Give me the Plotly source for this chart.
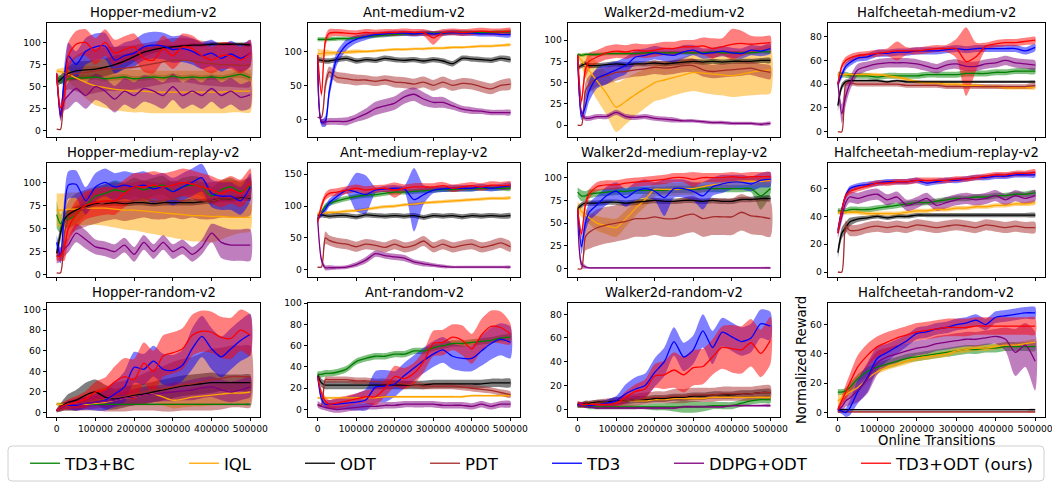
import plotly.graph_objects as go

# Evaluation steps (online transitions)
steps = [0, 10000, 20000, 30000, 50000, 75000, 100000, 125000, 150000, 175000, 200000,
         225000, 250000, 275000, 300000, 325000, 350000, 375000, 400000, 425000, 450000,
         475000, 500000]

methods = ["TD3+BC", "IQL", "ODT", "PDT", "TD3", "DDPG+ODT", "TD3+ODT (ours)"]
colors = ["#008000", "#FFA500", "#000000", "#A52A2A", "#0000FF", "#800080", "#FF0000"]

xtick_vals = [0, 100000, 200000, 300000, 400000, 500000]
xtick_text = ["0", "100000", "200000", "300000", "400000", "500000"]

# ---- Hopper-medium-v2 (rows follow the method order) ----
hopper_medium_mean = [
    [60, 58, 57, 59, 60, 60, 61, 59, 60, 61, 59, 60, 61, 60, 62, 60, 61, 60, 61, 60, 62, 64, 60],
    [68, 67, 66, 64, 60, 55, 51, 49, 47, 46, 45, 45, 44, 44, 44, 44, 44, 44, 44, 44, 45, 45, 45],
    [55, 58, 62, 65, 68, 69, 70, 72, 75, 79, 84, 89, 92, 94, 95, 96, 97, 97, 98, 98, 98, 98, 97],
    [2, 2, 55, 62, 65, 66, 68, 70, 70, 71, 72, 74, 76, 78, 80, 80, 79, 77, 76, 75, 75, 74, 75],
    [65, 18, 60, 85, 75, 90, 95, 96, 80, 85, 88, 95, 97, 96, 92, 93, 90, 85, 88, 82, 87, 82, 88],
    [65, 16, 35, 40, 48, 40, 50, 45, 36, 45, 40, 48, 45, 40, 50, 40, 45, 40, 48, 40, 45, 38, 41],
    [65, 26, 40, 85, 98, 100, 90, 100, 88, 92, 95, 82, 80, 93, 85, 95, 93, 85, 80, 85, 85, 80, 88],
]
hopper_medium_sd = [
    [4, 5, 4, 3, 3, 3, 3, 3, 3, 3, 3, 3, 3, 3, 3, 3, 3, 3, 3, 3, 3, 4, 3],
    [2, 4, 6, 8, 12, 18, 22, 23, 24, 24, 24, 24, 24, 24, 24, 24, 24, 24, 24, 24, 24, 24, 24],
    [4, 5, 6, 8, 10, 10, 10, 10, 10, 8, 6, 5, 4, 3, 2, 2, 2, 2, 2, 2, 2, 2, 2],
    [0, 0, 10, 15, 20, 25, 25, 25, 25, 25, 25, 25, 25, 25, 25, 25, 25, 25, 25, 25, 25, 25, 25],
    [3, 5, 15, 15, 15, 15, 15, 15, 15, 15, 15, 15, 15, 15, 15, 15, 15, 15, 15, 15, 15, 15, 15],
    [3, 5, 12, 15, 15, 15, 15, 15, 15, 15, 15, 15, 15, 15, 15, 15, 15, 15, 15, 15, 15, 15, 15],
    [3, 5, 15, 15, 15, 15, 15, 15, 15, 15, 15, 15, 15, 15, 15, 15, 15, 15, 15, 15, 15, 15, 15],
]

# ---- Ant-medium-v2 ----
ant_medium_mean = [
    [118, 118, 118, 118, 119, 119, 120, 122, 123, 124, 125, 126, 126, 127, 127, 127, 128, 128, 128, 128, 128, 129, 129],
    [97, 97, 98, 98, 98, 99, 100, 100, 101, 102, 103, 103, 104, 104, 105, 105, 106, 106, 107, 108, 108, 109, 110],
    [88, 87, 86, 86, 88, 90, 86, 88, 87, 90, 88, 87, 88, 86, 88, 86, 82, 90, 89, 88, 87, 90, 88],
    [3, 3, 50, 70, 62, 60, 58, 58, 56, 58, 55, 54, 52, 55, 50, 55, 50, 53, 52, 48, 45, 50, 52],
    [95, -5, -3, 40, 90, 110, 118, 122, 125, 126, 127, 127, 126, 127, 126, 127, 128, 127, 127, 126, 126, 125, 125],
    [88, -3, -4, -3, -3, -3, 2, 8, 16, 20, 24, 33, 37, 30, 25, 25, 20, 15, 13, 12, 10, 10, 10],
    [95, 37, 115, 127, 128, 127, 126, 128, 127, 128, 128, 129, 128, 128, 120, 128, 129, 128, 129, 130, 129, 129, 130],
]
ant_medium_sd = [
    [3, 3, 3, 3, 3, 3, 3, 3, 3, 3, 3, 3, 3, 3, 3, 3, 3, 3, 3, 3, 3, 3, 3],
    [7, 6, 5, 4, 3, 3, 3, 2, 2, 2, 2, 2, 2, 2, 2, 2, 2, 2, 2, 2, 2, 2, 2],
    [4, 4, 4, 4, 4, 4, 4, 4, 4, 4, 4, 4, 4, 4, 4, 4, 4, 4, 4, 4, 4, 4, 4],
    [1, 1, 10, 8, 8, 8, 8, 7, 7, 7, 8, 8, 8, 8, 8, 8, 8, 8, 8, 8, 8, 8, 8],
    [3, 5, 8, 10, 10, 8, 6, 5, 4, 4, 4, 4, 4, 4, 4, 4, 4, 4, 4, 4, 4, 4, 4],
    [3, 4, 5, 5, 5, 6, 6, 8, 10, 10, 10, 10, 10, 10, 8, 8, 6, 5, 5, 4, 4, 4, 4],
    [3, 5, 8, 6, 5, 5, 5, 5, 5, 5, 5, 5, 5, 5, 10, 5, 5, 5, 5, 5, 5, 5, 5],
]

# ---- Walker2d-medium-v2 ----
walker_medium_mean = [
    [83, 82, 83, 83, 83, 84, 84, 84, 84, 85, 85, 85, 85, 85, 85, 85, 86, 85, 85, 85, 85, 86, 86],
    [82, 76, 70, 64, 52, 37, 21, 28, 36, 43, 50, 53, 56, 59, 62, 61, 60, 59, 58, 60, 62, 64, 65],
    [67, 70, 72, 70, 70, 71, 72, 71, 72, 72, 73, 72, 73, 74, 75, 74, 75, 74, 75, 75, 75, 76, 76],
    [0, 0, 40, 48, 55, 58, 62, 63, 65, 66, 68, 67, 68, 70, 70, 65, 63, 64, 65, 66, 67, 64, 62],
    [82, 10, 22, 40, 55, 60, 65, 70, 80, 82, 85, 83, 82, 86, 88, 84, 85, 87, 85, 84, 88, 87, 90],
    [82, 15, 8, 8, 10, 10, 15, 10, 9, 10, 8, 7, 6, 5, 5, 4, 3, 3, 2, 2, 2, 1, 2],
    [82, 28, 65, 75, 80, 85, 87, 86, 88, 87, 88, 90, 90, 92, 92, 93, 90, 92, 95, 96, 95, 96, 97],
]
walker_medium_sd = [
    [2, 2, 2, 2, 2, 2, 2, 2, 2, 2, 2, 2, 2, 2, 2, 2, 2, 2, 2, 2, 2, 2, 2],
    [2, 8, 14, 18, 22, 25, 29, 27, 25, 23, 22, 22, 21, 21, 22, 23, 24, 24, 25, 26, 27, 28, 28],
    [3, 3, 3, 3, 3, 3, 3, 3, 3, 3, 3, 3, 3, 3, 3, 3, 3, 3, 3, 3, 3, 3, 3],
    [0, 0, 10, 10, 10, 10, 10, 8, 8, 8, 8, 8, 8, 8, 8, 8, 8, 8, 8, 8, 8, 8, 8],
    [2, 4, 10, 12, 12, 12, 10, 10, 8, 8, 8, 8, 8, 8, 6, 6, 6, 6, 6, 6, 6, 6, 6],
    [2, 4, 3, 3, 3, 3, 3, 3, 3, 3, 3, 3, 3, 2, 2, 2, 2, 2, 2, 2, 2, 2, 2],
    [2, 5, 10, 10, 8, 8, 8, 8, 8, 8, 8, 8, 8, 8, 8, 10, 12, 10, 18, 15, 10, 8, 8],
]

# ---- Halfcheetah-medium-v2 ----
cheetah_medium_mean = [
    [48, 48, 48, 47, 47, 47, 46, 47, 47, 47, 47, 48, 48, 48, 48, 49, 49, 49, 50, 50, 51, 51, 51],
    [48, 48, 48, 48, 48, 48, 48, 47, 46, 44, 42, 41, 41, 40, 40, 39, 39, 38, 38, 37, 37, 37, 37],
    [22, 38, 42, 43, 43, 43, 43, 42, 43, 42, 42, 42, 42, 42, 42, 42, 42, 42, 42, 42, 42, 42, 42],
    [0, 0, 40, 41, 40, 40, 40, 40, 40, 39, 39, 39, 39, 38, 38, 38, 38, 38, 38, 38, 38, 38, 39],
    [40, 48, 55, 58, 62, 63, 66, 66, 67, 67, 68, 68, 68, 69, 70, 69, 70, 70, 70, 70, 70, 68, 71],
    [42, 15, 30, 40, 52, 55, 57, 58, 58, 58, 57, 55, 53, 56, 57, 55, 55, 57, 58, 60, 58, 57, 56],
    [40, 55, 60, 62, 64, 65, 66, 67, 68, 68, 68, 69, 70, 70, 70, 59, 63, 72, 74, 75, 75, 76, 77],
]
cheetah_medium_sd = [
    [2.5, 2.5, 2.5, 2.5, 2.5, 2.5, 2.5, 2.5, 2.5, 2.5, 2.5, 2.5, 2.5, 2.5, 2.5, 2.5, 2.5, 2.5, 2.5, 2.5, 2.5, 2.5, 2.5],
    [1.5, 1.5, 1.5, 1.5, 1.5, 1.5, 1.5, 1.5, 1.5, 1.5, 1.5, 1.5, 1.5, 1.5, 1.5, 1.5, 1.5, 1.5, 1.5, 1.5, 1.5, 1.5, 1.5],
    [5, 3, 2, 1, 1, 1, 1, 1, 1, 1, 1, 1, 1, 1, 1, 1, 1, 1, 1, 1, 1, 1, 1],
    [0, 0, 2, 2, 2, 2, 2, 2, 2, 2, 2, 2, 2, 2, 2, 2, 2, 2, 2, 2, 2, 2, 2],
    [3, 3, 3, 3, 3, 3, 3, 3, 3, 3, 3, 3, 3, 3, 3, 3, 3, 3, 3, 3, 3, 3, 3],
    [3, 8, 8, 6, 5, 4, 4, 4, 4, 4, 4, 4, 4, 4, 4, 4, 4, 4, 4, 4, 4, 4, 4],
    [3, 3, 3, 3, 3, 3, 3, 3, 8, 3, 3, 3, 3, 3, 8, 29, 12, 3, 3, 3, 3, 3, 3],
]

# ---- Hopper-medium-replay-v2 ----
hopper_replay_mean = [
    [65, 55, 62, 60, 65, 75, 85, 88, 92, 90, 95, 92, 95, 97, 90, 95, 97, 95, 85, 92, 95, 90, 96],
    [70, 70, 70, 71, 71, 72, 72, 72, 71, 70, 70, 69, 68, 67, 66, 65, 64, 64, 63, 63, 62, 62, 62],
    [23, 45, 60, 65, 70, 74, 77, 77, 78, 77, 78, 78, 77, 78, 78, 78, 78, 79, 80, 82, 82, 83, 83],
    [2, 2, 45, 60, 68, 72, 75, 78, 80, 78, 80, 82, 80, 80, 82, 80, 82, 80, 80, 82, 82, 82, 84],
    [35, 20, 70, 97, 98, 80, 95, 100, 95, 97, 95, 97, 93, 95, 90, 95, 100, 105, 88, 85, 85, 80, 95],
    [20, 22, 28, 32, 45, 38, 30, 28, 25, 32, 22, 35, 25, 35, 25, 30, 22, 30, 45, 35, 32, 32, 32],
    [20, 20, 30, 50, 65, 75, 78, 80, 80, 88, 95, 95, 97, 95, 97, 100, 98, 95, 92, 88, 92, 88, 100],
]
hopper_replay_sd = [
    [15, 10, 10, 10, 10, 10, 10, 10, 10, 10, 10, 10, 10, 10, 10, 10, 10, 10, 10, 10, 10, 10, 10],
    [18, 18, 18, 18, 18, 18, 18, 19, 20, 21, 22, 23, 24, 25, 26, 27, 28, 28, 28, 25, 20, 17, 15],
    [8, 8, 6, 5, 4, 3, 3, 3, 3, 3, 3, 3, 3, 3, 3, 3, 3, 3, 3, 3, 3, 3, 3],
    [0, 0, 20, 20, 20, 20, 20, 20, 20, 20, 20, 20, 20, 20, 20, 20, 20, 20, 20, 20, 20, 20, 20],
    [8, 8, 15, 15, 15, 15, 15, 15, 15, 15, 15, 15, 15, 15, 15, 15, 15, 15, 15, 15, 15, 15, 15],
    [8, 8, 8, 8, 10, 10, 8, 8, 8, 8, 8, 8, 8, 8, 8, 8, 8, 8, 10, 17, 17, 17, 17],
    [5, 5, 15, 15, 15, 15, 15, 15, 15, 15, 15, 15, 15, 15, 15, 15, 15, 15, 15, 15, 15, 15, 15],
]

# ---- Ant-medium-replay-v2 ----
ant_replay_mean = [
    [80, 90, 100, 104, 108, 112, 115, 117, 118, 120, 122, 122, 123, 124, 125, 126, 126, 127, 127, 128, 128, 128, 128],
    [88, 89, 89, 90, 90, 92, 93, 95, 97, 99, 100, 102, 103, 105, 106, 107, 108, 109, 110, 111, 112, 112, 113],
    [85, 86, 85, 84, 85, 85, 83, 86, 85, 84, 85, 84, 85, 82, 85, 84, 85, 83, 85, 84, 85, 84, 85],
    [4, 4, 50, 46, 42, 40, 36, 40, 38, 35, 40, 35, 38, 45, 35, 40, 35, 38, 40, 35, 38, 42, 36],
    [80, 88, 95, 105, 115, 125, 122, 118, 125, 127, 128, 127, 110, 118, 125, 127, 128, 128, 128, 130, 128, 130, 132],
    [80, 15, 3, 3, 3, 4, 8, 15, 25, 22, 20, 18, 12, 9, 7, 5, 4, 4, 4, 4, 4, 4, 4],
    [75, 100, 115, 120, 122, 125, 128, 125, 127, 128, 125, 128, 130, 130, 130, 132, 128, 130, 132, 130, 133, 132, 133],
]
ant_replay_sd = [
    [4, 4, 4, 4, 4, 4, 4, 4, 4, 4, 4, 4, 4, 4, 4, 4, 4, 4, 4, 4, 4, 4, 4],
    [2.5, 2.5, 2.5, 2.5, 2.5, 2.5, 2.5, 2.5, 2.5, 2.5, 2.5, 2.5, 2.5, 2.5, 2.5, 2.5, 2.5, 2.5, 2.5, 2.5, 2.5, 2.5, 2.5],
    [4, 4, 4, 4, 4, 4, 4, 4, 4, 4, 4, 4, 4, 4, 4, 4, 4, 4, 4, 4, 4, 4, 4],
    [1, 1, 10, 8, 8, 8, 8, 8, 8, 8, 8, 8, 8, 8, 8, 8, 8, 8, 8, 8, 8, 8, 8],
    [4, 5, 6, 6, 6, 5, 30, 30, 5, 5, 5, 5, 50, 15, 5, 5, 5, 5, 5, 5, 5, 5, 5],
    [4, 5, 4, 4, 3, 3, 4, 5, 5, 5, 5, 5, 4, 4, 3, 3, 2, 2, 2, 2, 2, 2, 2],
    [6, 6, 6, 6, 6, 6, 6, 6, 6, 6, 12, 6, 6, 6, 6, 6, 6, 6, 6, 6, 6, 6, 6],
]

# ---- Walker2d-medium-replay-v2 ----
walker_replay_mean = [
    [84, 80, 80, 82, 83, 84, 85, 85, 86, 86, 86, 86, 87, 87, 87, 88, 88, 88, 88, 88, 88, 80, 88],
    [68, 63, 59, 56, 50, 47, 45, 55, 66, 76, 87, 87, 87, 88, 88, 90, 92, 93, 95, 96, 96, 96, 97],
    [66, 70, 72, 72, 72, 73, 73, 72, 73, 74, 75, 74, 74, 75, 75, 74, 75, 74, 74, 76, 76, 77, 77],
    [0, 0, 35, 40, 45, 48, 50, 52, 55, 55, 57, 55, 55, 58, 60, 55, 57, 57, 57, 62, 58, 57, 55],
    [65, 24, 50, 62, 70, 80, 85, 78, 85, 88, 85, 78, 88, 88, 85, 80, 90, 93, 95, 95, 93, 97, 98],
    [65, 5, 2, 1, 1, 1, 1, 1, 1, 1, 1, 1, 1, 1, 1, 1, 1, 1, 1, 1, 1, 1, 1],
    [65, 38, 70, 82, 90, 92, 92, 94, 95, 96, 97, 98, 100, 100, 98, 100, 100, 100, 101, 100, 101, 101, 101],
]
walker_replay_sd = [
    [5, 6, 5, 5, 4, 4, 4, 4, 4, 4, 4, 4, 4, 4, 4, 4, 4, 4, 4, 4, 4, 15, 6],
    [6, 6, 7, 7, 8, 9, 10, 9, 8, 8, 8, 7, 7, 7, 7, 6, 6, 6, 6, 5, 5, 5, 5],
    [3, 3, 3, 3, 3, 3, 3, 3, 3, 3, 3, 3, 3, 3, 3, 3, 3, 3, 3, 3, 3, 3, 3],
    [0, 0, 15, 18, 20, 20, 20, 20, 20, 20, 20, 20, 20, 20, 20, 20, 20, 20, 20, 20, 20, 20, 20],
    [4, 8, 10, 10, 10, 10, 10, 10, 10, 10, 10, 20, 10, 10, 10, 15, 10, 10, 8, 8, 8, 8, 8],
    [2, 4, 2, 1, 1, 1, 1, 1, 1, 1, 1, 1, 1, 1, 1, 1, 1, 1, 1, 1, 1, 1, 1],
    [5, 5, 5, 5, 5, 5, 5, 5, 5, 5, 5, 5, 5, 5, 8, 5, 5, 5, 5, 5, 5, 5, 5],
]

# ---- Halfcheetah-medium-replay-v2 ----
cheetah_replay_mean = [
    [44, 44, 44, 45, 45, 45, 46, 47, 48, 49, 50, 50, 51, 52, 53, 53, 54, 54, 55, 55, 56, 56, 57],
    [43, 43, 43, 43, 43, 42, 42, 42, 42, 43, 44, 44, 45, 45, 46, 46, 47, 47, 48, 48, 49, 49, 50],
    [14, 28, 32, 36, 38, 39, 40, 39, 40, 40, 41, 41, 41, 41, 41, 41, 41, 41, 41, 41, 41, 41, 41],
    [0, 0, 33, 30, 30, 32, 33, 32, 33, 32, 34, 33, 32, 33, 34, 33, 32, 34, 33, 32, 33, 32, 32],
    [30, 45, 55, 60, 62, 63, 64, 65, 65, 65, 66, 64, 65, 66, 66, 67, 68, 68, 69, 69, 70, 70, 70],
    [28, 40, 50, 54, 53, 55, 56, 52, 54, 48, 50, 53, 48, 50, 52, 53, 52, 53, 55, 52, 55, 53, 55],
    [28, 45, 55, 58, 60, 62, 64, 64, 65, 65, 66, 66, 66, 66, 67, 67, 68, 69, 70, 70, 71, 71, 72],
]
cheetah_replay_sd = [
    [2, 2, 2, 2, 2, 2, 2, 2, 2, 2, 2, 2, 2, 2, 2, 2, 2, 2, 2, 2, 2, 2, 2],
    [1.5, 1.5, 1.5, 1.5, 1.5, 1.5, 1.5, 1.5, 1.5, 1.5, 1.5, 1.5, 1.5, 1.5, 1.5, 1.5, 1.5, 1.5, 1.5, 1.5, 1.5, 1.5, 1.5],
    [4, 4, 4, 3, 2, 1.5, 1.5, 1.5, 1.5, 1.5, 1.5, 1.5, 1.5, 1.5, 1.5, 1.5, 1.5, 1.5, 1.5, 1.5, 1.5, 1.5, 1.5],
    [0, 0, 4, 4, 4, 4, 4, 4, 4, 4, 4, 4, 4, 4, 4, 4, 4, 4, 4, 4, 4, 4, 4],
    [2, 2, 2, 2, 2, 2, 2, 2, 2, 2, 2, 2, 2, 2, 2, 2, 2, 2, 2, 2, 2, 2, 2],
    [4, 4, 4, 4, 4, 4, 4, 4, 4, 4, 4, 4, 4, 4, 4, 4, 4, 4, 4, 4, 4, 4, 4],
    [2, 2, 2, 2, 2, 2, 2, 2, 2, 2, 2, 2, 2, 2, 2, 2, 2, 2, 2, 2, 2, 2, 2],
]

# ---- Hopper-random-v2 ----
hopper_random_mean = [
    [8, 8, 8, 8, 8, 8, 8, 8, 8, 8, 8, 8, 8, 8, 8, 8, 8, 8, 8, 8, 8, 8, 8],
    [8, 8, 8, 8, 8, 8, 9, 10, 12, 14, 15, 17, 18, 15, 12, 13, 15, 16, 17, 18, 19, 19, 20],
    [2, 5, 8, 10, 12, 17, 20, 15, 13, 15, 17, 18, 20, 22, 24, 26, 27, 28, 29, 29, 29, 29, 29],
    [2, 3, 5, 6, 8, 10, 12, 13, 15, 16, 18, 20, 22, 23, 25, 27, 28, 30, 32, 33, 35, 35, 35],
    [2, 5, 7, 7, 7, 9, 10, 12, 18, 25, 44, 42, 50, 42, 41, 46, 62, 74, 62, 54, 62, 70, 76],
    [2, 4, 6, 8, 8, 9, 10, 11, 12, 14, 15, 17, 18, 19, 20, 21, 22, 24, 25, 22, 20, 22, 25],
    [2, 5, 7, 8, 10, 13, 20, 22, 30, 35, 32, 48, 40, 55, 58, 62, 75, 79, 78, 73, 72, 80, 75],
]
hopper_random_sd = [
    [1, 1, 1, 1, 1, 1, 1, 1, 1, 1, 1, 1, 1, 1, 1, 1, 1, 1, 1, 1, 1, 1, 1],
    [2, 2, 2, 2, 2, 3, 3, 4, 5, 6, 7, 8, 8, 8, 8, 8, 9, 10, 10, 10, 10, 10, 10],
    [2, 4, 6, 8, 10, 12, 12, 12, 10, 10, 10, 10, 10, 10, 10, 10, 10, 10, 10, 8, 8, 8, 8],
    [1, 2, 3, 4, 6, 8, 10, 12, 14, 15, 16, 18, 20, 22, 24, 25, 26, 28, 30, 30, 30, 30, 30],
    [1, 2, 3, 4, 5, 6, 8, 10, 12, 15, 15, 15, 15, 15, 15, 15, 20, 20, 20, 20, 20, 20, 20],
    [1, 2, 3, 4, 6, 6, 6, 6, 7, 7, 8, 8, 8, 8, 9, 9, 10, 10, 10, 10, 10, 10, 10],
    [1, 3, 4, 5, 6, 8, 10, 12, 15, 18, 20, 20, 20, 20, 20, 20, 20, 20, 20, 20, 20, 20, 20],
]

# ---- Ant-random-v2 ----
ant_random_mean = [
    [33, 33, 34, 34, 35, 38, 45, 48, 50, 50, 52, 52, 55, 55, 58, 60, 62, 62, 63, 64, 65, 67, 68],
    [11, 11, 11, 11, 11, 11, 11, 11, 11, 12, 12, 12, 12, 12, 12, 12, 12, 12, 13, 13, 13, 13, 13],
    [32, 25, 23, 23, 23, 23, 23, 23, 23, 23, 23, 23, 23, 23, 24, 24, 24, 24, 24, 24, 25, 25, 25],
    [4, 4, 28, 28, 28, 28, 27, 27, 26, 26, 25, 24, 23, 22, 22, 22, 22, 21, 20, 19, 18, 16, 14],
    [31, 10, 5, 5, 5, 6, 7, 9, 21, 22, 24, 32, 39, 46, 52, 56, 50, 48, 48, 55, 62, 66, 63],
    [5, 3, 2, 1, 0, 1, 2, 3, 3, 4, 4, 5, 5, 5, 5, 4, 4, 4, 3, 5, 3, 5, 5],
    [31, 15, 8, 5, 6, 8, 10, 12, 12, 20, 31, 29, 34, 45, 62, 63, 68, 65, 57, 70, 78, 77, 71],
]
ant_random_sd = [
    [3, 3, 3, 3, 3, 3, 3, 3, 3, 3, 3, 3, 3, 3, 3, 3, 3, 3, 3, 3, 3, 3, 3],
    [1, 1, 1, 1, 1, 1, 1, 1, 1, 1, 1, 1, 1, 1, 1, 1, 1, 1, 1, 1, 1, 1, 1],
    [3, 4, 4, 4, 4, 4, 4, 4, 4, 4, 4, 4, 4, 4, 4, 4, 4, 4, 4, 4, 4, 4, 4],
    [1, 1, 3, 3, 3, 3, 3, 3, 3, 3, 3, 3, 3, 3, 3, 3, 3, 3, 3, 3, 3, 3, 3],
    [2, 4, 4, 4, 5, 6, 8, 10, 15, 15, 12, 12, 12, 12, 12, 12, 12, 12, 12, 14, 15, 15, 15],
    [3, 3, 3, 3, 3, 3, 3, 3, 3, 3, 3, 3, 3, 3, 3, 3, 3, 3, 3, 3, 3, 3, 3],
    [2, 4, 4, 4, 5, 5, 5, 6, 8, 8, 10, 10, 10, 10, 12, 12, 12, 14, 14, 15, 15, 15, 10],
]

# ---- Walker2d-random-v2 ----
walker_random_mean = [
    [3, 3, 3, 2, 2, 2, 2, 2, 2, 2, 2, 2, 2, 2, 2, 2, 3, 3, 3, 5, 7, 8, 8],
    [4, 4, 5, 5, 5, 6, 6, 7, 7, 7, 8, 8, 9, 9, 9, 9, 10, 10, 10, 10, 10, 10, 10],
    [4, 4, 5, 5, 6, 6, 7, 7, 8, 8, 9, 9, 10, 10, 11, 11, 12, 12, 12, 13, 13, 14, 14],
    [3, 3, 4, 4, 5, 5, 6, 7, 8, 9, 10, 10, 11, 11, 12, 12, 12, 13, 13, 13, 13, 14, 14],
    [4, 4, 4, 3, 4, 5, 7, 13, 17, 20, 31, 40, 57, 44, 50, 66, 52, 65, 61, 57, 60, 72, 70],
    [3, 3, 2, 2, 1, 1, 1, 1, 1, 1, 1, 1, 1, 2, 2, 2, 2, 2, 3, 3, 3, 3, 3],
    [5, 4, 4, 4, 4, 4, 5, 10, 15, 17, 28, 29, 33, 29, 35, 36, 44, 52, 51, 50, 56, 47, 58],
]
walker_random_sd = [
    [2, 2, 2, 2, 2, 2, 2, 2, 2, 2, 3, 3, 4, 5, 5, 4, 3, 3, 3, 3, 3, 3, 3],
    [1, 1, 1, 1, 1, 1, 1, 1, 1, 1, 1, 1, 1, 1, 1, 1, 1, 1, 1, 1, 1, 1, 1],
    [2, 2, 2, 2, 2, 2, 3, 3, 3, 3, 3, 3, 3, 3, 3, 3, 3, 3, 3, 3, 3, 3, 3],
    [2, 2, 3, 3, 3, 4, 4, 5, 5, 5, 5, 5, 6, 6, 6, 6, 6, 6, 6, 6, 6, 6, 6],
    [2, 2, 2, 2, 2, 3, 4, 8, 10, 10, 12, 12, 12, 12, 12, 14, 14, 12, 12, 12, 12, 12, 12],
    [1, 1, 1, 1, 1, 1, 1, 1, 1, 1, 1, 1, 1, 1, 1, 1, 1, 1, 1, 1, 1, 1, 1],
    [2, 2, 2, 2, 2, 3, 3, 5, 6, 8, 10, 12, 15, 15, 15, 15, 15, 18, 20, 20, 20, 20, 20],
]

# ---- Halfcheetah-random-v2 ----
cheetah_random_mean = [
    [14, 14, 15, 17, 23, 28, 31, 33, 35, 37, 38, 39, 40, 41, 42, 43, 43, 44, 44, 45, 45, 45, 45],
    [8, 10, 12, 14, 17, 23, 28, 31, 33, 35, 37, 38, 39, 40, 42, 43, 44, 44, 45, 46, 46, 47, 48],
    [2, 2, 2, 2, 2, 2, 2, 2, 2, 2, 2, 2, 2, 2, 2, 2, 2, 2, 2, 2, 2, 2, 2],
    [0.5, 0.5, 0.5, 0.5, 0.5, 0.5, 0.5, 0.5, 0.5, 0.5, 0.5, 0.5, 0.5, 0.5, 0.5, 0.5, 0.5, 0.5, 0.5, 0.5, 0.5, 0.5, 0.5],
    [2, 1, 0, 3, 14, 24, 37, 41, 45, 49, 54, 55, 57, 58, 60, 61, 63, 60, 65, 66, 67, 68, 68],
    [2, 4, 8, 10, 15, 23, 34, 38, 40, 42, 44, 45, 47, 48, 49, 50, 50, 51, 52, 50, 41, 46, 35],
    [2, 8, 14, 20, 31, 39, 45, 48, 51, 53, 55, 56, 57, 58, 58, 58, 59, 59, 59, 59, 59, 59, 59],
]
cheetah_random_sd = [
    [2, 2, 2, 3, 3, 3, 3, 3, 3, 3, 3, 3, 3, 3, 3, 3, 3, 3, 3, 3, 3, 3, 3],
    [4, 3, 3, 3, 3, 3, 2, 2, 2, 2, 2, 2, 2, 2, 2, 2, 2, 2, 2, 2, 2, 2, 2],
    [0.5, 0.5, 0.5, 0.5, 0.5, 0.5, 0.5, 0.5, 0.5, 0.5, 0.5, 0.5, 0.5, 0.5, 0.5, 0.5, 0.5, 0.5, 0.5, 0.5, 0.5, 0.5, 0.5],
    [0.6, 0.6, 0.6, 0.6, 0.6, 0.6, 0.6, 0.6, 0.6, 0.6, 0.6, 0.6, 0.6, 0.6, 0.6, 0.6, 0.6, 0.6, 0.6, 0.6, 0.6, 0.6, 0.6],
    [2, 2, 3, 5, 8, 10, 8, 6, 5, 4, 4, 4, 4, 4, 4, 4, 4, 4, 4, 4, 4, 4, 4],
    [2, 3, 4, 5, 8, 10, 8, 6, 6, 5, 5, 5, 5, 5, 5, 5, 5, 5, 5, 8, 16, 15, 20],
    [2, 3, 5, 6, 8, 8, 7, 7, 6, 6, 6, 6, 6, 6, 6, 6, 6, 6, 6, 6, 6, 6, 6],
]

titles = ["Hopper-medium-v2", "Ant-medium-v2", "Walker2d-medium-v2", "Halfcheetah-medium-v2",
          "Hopper-medium-replay-v2", "Ant-medium-replay-v2", "Walker2d-medium-replay-v2",
          "Halfcheetah-medium-replay-v2",
          "Hopper-random-v2", "Ant-random-v2", "Walker2d-random-v2", "Halfcheetah-random-v2"]
panel_means = [hopper_medium_mean, ant_medium_mean, walker_medium_mean, cheetah_medium_mean,
               hopper_replay_mean, ant_replay_mean, walker_replay_mean, cheetah_replay_mean,
               hopper_random_mean, ant_random_mean, walker_random_mean, cheetah_random_mean]
panel_sds = [hopper_medium_sd, ant_medium_sd, walker_medium_sd, cheetah_medium_sd,
             hopper_replay_sd, ant_replay_sd, walker_replay_sd, cheetah_replay_sd,
             hopper_random_sd, ant_random_sd, walker_random_sd, cheetah_random_sd]
y_ranges = [[-6.8, 122], [-26, 142], [-14, 120], [-4.5, 91.5],
            [-2.6, 121], [-11.6, 167.7], [-9, 116], [-3.6, 78.5],
            [-4.3, 106.4], [-7, 100], [-6.6, 89.5], [-3, 74.7]]
y_ticks = [[0, 25, 50, 75, 100], [0, 50, 100], [0, 25, 50, 75, 100], [0, 20, 40, 60, 80],
           [0, 25, 50, 75, 100], [0, 50, 100, 150], [0, 25, 50, 75, 100], [0, 20, 40, 60],
           [0, 20, 40, 60, 80, 100], [0, 20, 40, 60, 80, 100], [0, 20, 40, 60, 80], [0, 20, 40, 60]]

W, H = 1052, 491
col_px = [(47, 260), (308, 520), (568, 780), (828, 1045)]
row_px = [(23, 137), (163, 277), (303, 417)]
# legend: frame box and left edge of each entry (pixels)
legend_box = (8, 446, 1044, 481)
legend_entry_x = [25, 184, 300, 425, 547, 669, 856]

FONT = "DejaVu Sans"
SHAPE = dict(shape="spline", smoothing=0.7)


def rgba(hex_color, alpha):
    h = hex_color.lstrip("#")
    r, g, b = int(h[0:2], 16), int(h[2:4], 16), int(h[4:6], 16)
    return f"rgba({r},{g},{b},{alpha})"


fig = go.Figure()
layout = {}
annotations = []
legend_names = ["legend"] + [f"legend{i}" for i in range(2, 8)]

for p in range(12):
    r, c = divmod(p, 4)
    ax_suffix = "" if p == 0 else str(p + 1)
    xa, ya = "x" + ax_suffix, "y" + ax_suffix
    x0, x1 = col_px[c]
    y0, y1 = row_px[r]
    xdom = [x0 / W, x1 / W]
    ydom = [1 - y1 / H, 1 - y0 / H]

    means, sds = panel_means[p], panel_sds[p]
    # shaded spread bands first
    for k in range(7):
        up = [m + s for m, s in zip(means[k], sds[k])]
        lo = [m - s for m, s in zip(means[k], sds[k])]
        fig.add_trace(go.Scatter(
            x=steps + steps[::-1], y=up + lo[::-1], fill="toself",
            fillcolor=rgba(colors[k], 0.5), line=dict(width=0, **SHAPE), mode="lines",
            hoverinfo="skip", showlegend=False, xaxis=xa, yaxis=ya))
    # mean curves on top
    for k in range(7):
        fig.add_trace(go.Scatter(
            x=steps, y=means[k], mode="lines", name=methods[k],
            line=dict(color=colors[k], width=1.3, **SHAPE),
            showlegend=(p == 0), legend=legend_names[k], xaxis=xa, yaxis=ya))

    axis_common = dict(showline=True, mirror=True, linecolor="black", linewidth=0.8,
                       ticks="outside", ticklen=3.5, tickwidth=0.8, tickcolor="black",
                       showgrid=False, zeroline=False, ticklabeloverflow="allow",
                       tickfont=dict(family=FONT, size=9.2, color="black"))
    layout["xaxis" + ax_suffix] = dict(
        domain=xdom, range=[-25000, 525000], anchor=ya,
        tickvals=xtick_vals, ticktext=xtick_text, showticklabels=(r == 2), **axis_common)
    layout["yaxis" + ax_suffix] = dict(
        domain=ydom, range=y_ranges[p], anchor=xa, tickvals=y_ticks[p],
        ticktext=[str(v) for v in y_ticks[p]], **axis_common)

    annotations.append(dict(
        text=titles[p], x=(xdom[0] + xdom[1]) / 2, y=ydom[1], xref="paper", yref="paper",
        xanchor="center", yanchor="bottom", yshift=1, showarrow=False,
        font=dict(family=FONT, size=13.2, color="black")))

# axis titles on the last panel
annotations.append(dict(
    text="Normalized Reward", x=801 / W, y=1 - 360 / H, xref="paper", yref="paper",
    textangle=-90, xanchor="center", yanchor="middle", showarrow=False,
    font=dict(family=FONT, size=13.2, color="black")))
annotations.append(dict(
    text="Online Transitions", x=936.5 / W, y=1 - 440 / H, xref="paper", yref="paper",
    xanchor="center", yanchor="middle", showarrow=False,
    font=dict(family=FONT, size=13.2, color="black")))

# one single-entry legend per method, spread across the bottom row
lb_x0, lb_y0, lb_x1, lb_y1 = legend_box
for k, name in enumerate(legend_names):
    layout[name] = dict(
        orientation="h", x=legend_entry_x[k] / W, y=1 - (lb_y0 + lb_y1) / 2 / H,
        xanchor="left", yanchor="middle", bgcolor="rgba(0,0,0,0)", borderwidth=0,
        itemwidth=30, font=dict(family=FONT, size=16.5, color="black"))

# rounded legend frame
rad = 4
fx0, fx1 = lb_x0 / W, lb_x1 / W
fy0, fy1 = 1 - lb_y1 / H, 1 - lb_y0 / H
rx, ry = rad / W, rad / H
frame_path = (f"M {fx0 + rx},{fy0} L {fx1 - rx},{fy0} Q {fx1},{fy0} {fx1},{fy0 + ry} "
              f"L {fx1},{fy1 - ry} Q {fx1},{fy1} {fx1 - rx},{fy1} L {fx0 + rx},{fy1} "
              f"Q {fx0},{fy1} {fx0},{fy1 - ry} L {fx0},{fy0 + ry} Q {fx0},{fy0} {fx0 + rx},{fy0} Z")

fig.update_layout(
    width=W, height=H, margin=dict(l=0, r=0, t=0, b=0, autoexpand=False),
    paper_bgcolor="white", plot_bgcolor="white",
    annotations=annotations,
    shapes=[dict(type="path", path=frame_path, xref="paper", yref="paper",
                 line=dict(color="#d0d0d0", width=1), layer="below")],
    **layout)

fig.write_html("out.html")
